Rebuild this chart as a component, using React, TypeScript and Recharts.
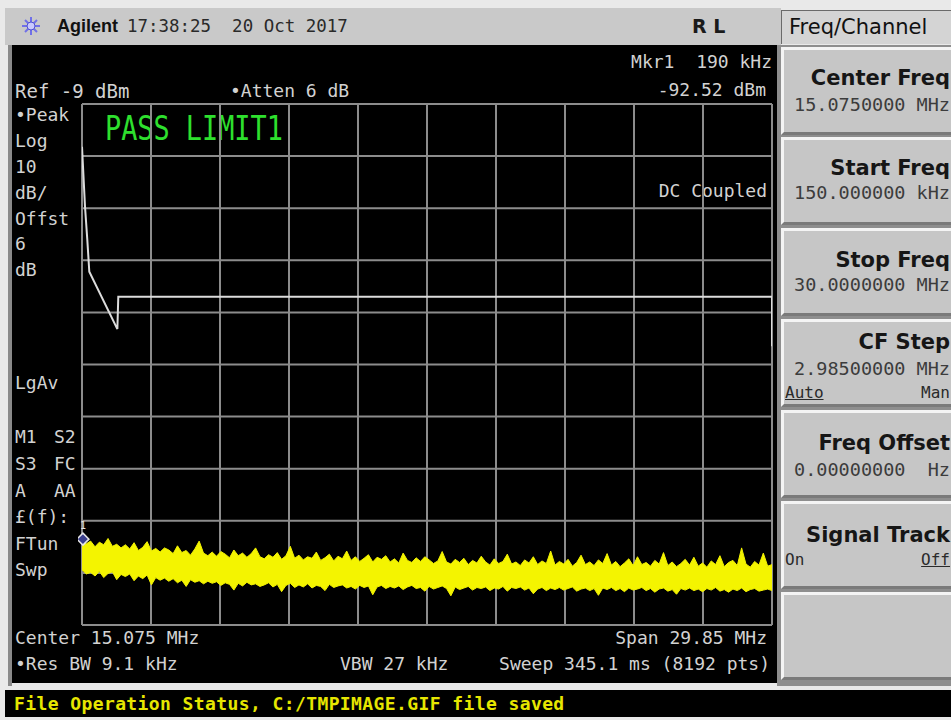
import React from "react";
import {
  ComposedChart,
  Area,
  Line,
  XAxis,
  YAxis,
  ReferenceLine,
  ReferenceDot,
} from "recharts";

// sweep settings (MHz / dBm)
const START_MHZ = 0.15;
const STOP_MHZ = 30;
const REF_DBM = -9;
const BOTTOM_DBM = -109;

// graticule divisions
const xTicks = [0.15, 3.135, 6.12, 9.105, 12.09, 15.075, 18.06, 21.045, 24.03, 27.015, 30];
const yTicks = [-109, -99, -89, -79, -69, -59, -49, -39, -29, -19, -9];

// limit line 1
const limitFreqs = [0.15, 0.28, 0.38, 0.466, 1.68, 1.72, 30, 30];
const limitLevels = [-17.2, -28.7, -35.1, -41.2, -52.2, -46.0, -46.0, -55.5];

// trace 1 envelope, upper and lower edge of the noise band (dBm), evenly across the span
const traceHi = [
  -92.6, -93.4, -92.9, -94.0, -93.1, -93.6, -92.4, -93.9, -93.5, -94.2,
  -93.6, -94.4, -93.2, -94.7, -94.1, -93.0, -94.8, -94.3, -95.0, -94.2,
  -94.6, -95.3, -93.8, -95.1, -94.7, -95.6, -94.4, -92.9, -95.2, -95.7,
  -95.0, -95.8, -94.9, -95.4, -96.1, -94.6, -95.7, -95.2, -96.0, -95.3,
  -94.2, -95.9, -96.3, -95.5, -96.0, -95.1, -96.4, -95.7, -93.9, -96.2,
  -95.6, -96.5, -95.9, -96.2, -95.0, -96.6, -96.1, -95.4, -96.7, -95.8,
  -96.3, -94.8, -96.6, -95.9, -96.8, -96.2, -95.5, -96.9, -96.0, -96.4,
  -95.7, -96.9, -96.3, -97.1, -95.2, -96.6, -97.0, -96.1, -96.8, -95.9,
  -96.5, -97.2, -96.7, -94.9, -96.9, -97.3, -96.4, -97.0, -96.2, -97.4,
  -96.6, -97.1, -95.8, -96.9, -97.5, -96.3, -97.2, -96.8, -95.4, -97.3,
  -96.9, -97.6, -96.5, -97.1, -95.9, -97.4, -96.7, -97.2, -94.8, -97.5,
  -96.8, -97.3, -96.4, -97.7, -97.0, -95.6, -97.4, -96.9, -97.6, -96.5,
  -97.2, -95.3, -97.5, -96.8, -97.8, -97.1, -96.3, -97.6, -95.9, -97.4,
  -97.0, -97.7, -96.6, -97.3, -95.1, -97.6, -96.9, -97.8, -97.2, -96.4,
  -97.5, -96.0, -97.7, -97.1, -97.9, -96.7, -97.4, -95.7, -97.8, -97.0,
  -96.6, -97.6, -94.2, -97.3, -97.9, -96.8, -97.5, -95.2, -97.7, -97.4,
];
const traceLo = [
  -98.4, -99.2, -98.9, -99.6, -98.7, -99.9, -99.1, -98.8, -100.3, -99.3,
  -99.7, -99.2, -100.5, -99.6, -100.1, -99.4, -101.3, -99.9, -100.4, -100.0,
  -100.6, -100.1, -100.9, -100.4, -101.6, -100.3, -100.8, -100.5, -101.1, -100.6,
  -101.0, -100.7, -101.4, -100.9, -101.2, -102.3, -101.0, -101.5, -100.8, -101.3,
  -101.1, -101.6, -101.3, -100.9, -101.7, -101.2, -102.6, -101.4, -101.0, -101.8,
  -101.3, -101.7, -101.1, -101.9, -101.4, -101.6, -102.4, -101.2, -101.8, -101.5,
  -101.3, -101.9, -101.6, -102.1, -101.4, -101.8, -101.5, -103.2, -101.7, -101.4,
  -102.0, -101.6, -101.9, -101.5, -102.2, -101.7, -101.4, -102.0, -101.8, -102.5,
  -101.6, -102.1, -101.8, -101.5, -102.0, -103.4, -101.7, -102.2, -101.9, -101.6,
  -102.3, -101.8, -102.0, -101.7, -102.4, -101.9, -102.1, -101.6, -102.5, -101.8,
  -102.0, -101.7, -102.3, -101.9, -103.0, -102.1, -101.8, -102.4, -101.9, -102.2,
  -101.8, -102.3, -102.0, -101.7, -102.5, -102.1, -101.9, -102.4, -102.0, -103.3,
  -101.9, -102.2, -101.8, -102.4, -102.0, -102.6, -101.9, -102.3, -102.1, -101.8,
  -102.4, -102.0, -102.7, -102.1, -101.9, -102.5, -102.2, -103.1, -102.0, -102.3,
  -101.9, -102.4, -102.1, -102.6, -102.0, -102.3, -101.8, -102.5, -102.2, -102.7,
  -102.1, -102.4, -101.9, -102.6, -102.2, -102.0, -102.5, -102.3, -102.1, -102.4,
];

const markerFreq = 0.19;
const markerLevel = -92.52;

const leftLabels = ["\u2022Peak", "Log", "10", "dB/", "Offst", "6", "dB"];
const statusLabels = [
  ["M1", "S2"],
  ["S3", "FC"],
  ["A", "AA"],
  ["\u00a3(f):", ""],
  ["FTun", ""],
  ["Swp", ""],
];

const softkeys = [
  { title: "Center Freq", value: "15.0750000 MHz", left: "", right: "" },
  { title: "Start Freq", value: "150.000000 kHz", left: "", right: "" },
  { title: "Stop Freq", value: "30.0000000 MHz", left: "", right: "" },
  { title: "CF Step", value: "2.98500000 MHz", left: "Auto", right: "Man" },
  { title: "Freq Offset", value: "0.00000000  Hz", left: "", right: "" },
  { title: "Signal Track", value: "", left: "On", right: "Off" },
  { title: "", value: "", left: "", right: "" },
];
// button top, title y, value y, option y
const keyLayout = [
  [47, 78, 105, 0],
  [137, 168, 193, 0],
  [228, 260, 285, 0],
  [319, 342, 369, 393],
  [410, 443, 470, 0],
  [501, 535, 0, 560],
  [592, 0, 0, 0],
];

const limitRows = limitFreqs.map((f, i) => ({ f, level: limitLevels[i] }));
const traceRows = traceHi.map((hi, i) => ({
  f: START_MHZ + (i * (STOP_MHZ - START_MHZ)) / (traceHi.length - 1),
  band: [traceLo[i], hi],
}));

const mono = '"DejaVu Sans Mono", monospace';
const sans = '"DejaVu Sans", sans-serif';
const LCD = "#d2d2d2";
const GRID = "#8c8c8c";

const CHART_W = 698;
const CHART_H = 529;
const CHART_MARGIN = { top: 4, right: 4, bottom: 4, left: 4 };

function T({
  x,
  y,
  right,
  size = 18,
  color = LCD,
  font = mono,
  weight = 400,
  sx = 1,
  spacing = 0,
  underline = false,
  children,
}: any) {
  const style: React.CSSProperties = {
    position: "absolute",
    top: y - size * 0.48,
    fontFamily: font,
    fontSize: size,
    lineHeight: `${size}px`,
    fontWeight: weight,
    color,
    letterSpacing: spacing,
    whiteSpace: "pre",
    textDecoration: underline ? "underline" : "none",
    transform: sx !== 1 ? `scaleX(${sx})` : undefined,
  };
  if (right !== undefined) {
    style.right = 951 - right;
    style.transformOrigin = "right center";
  } else {
    style.left = x;
    style.transformOrigin = "left center";
  }
  return <div style={style}>{children}</div>;
}

function Diamond(props: any) {
  const { cx, cy } = props;
  return (
    <g>
      <polygon
        points={`${cx},${cy - 6} ${cx + 6},${cy} ${cx},${cy + 6} ${cx - 6},${cy}`}
        fill="#3b3f8c"
        stroke="#e6e6e6"
        strokeWidth={1.5}
      />
      <text x={cx} y={cy - 10} fill="#e6e6e6" fontSize={10} fontFamily={mono} textAnchor="middle">
        1
      </text>
    </g>
  );
}

// shared hidden axes so the graticule and the traces use the same scales
function axes() {
  return [
    <XAxis
      key="x"
      dataKey="f"
      type="number"
      domain={[START_MHZ, STOP_MHZ]}
      ticks={xTicks}
      allowDataOverflow
      height={0}
      tick={false}
      tickLine={false}
      axisLine={false}
    />,
    <YAxis
      key="y"
      type="number"
      domain={[BOTTOM_DBM, REF_DBM]}
      ticks={yTicks}
      allowDataOverflow
      width={0}
      tick={false}
      tickLine={false}
      axisLine={false}
    />,
  ];
}

export default function App() {
  return (
    <div
      style={{
        position: "absolute",
        left: 0,
        top: 0,
        width: 951,
        height: 720,
        overflow: "hidden",
        background: "#e9e9e9",
      }}
    >
      {/* title bar */}
      <div style={{ position: "absolute", left: 5, top: 8, width: 776, height: 37, background: "#c9c9c9" }} />
      <svg style={{ position: "absolute", left: 21, top: 16 }} width={20} height={20}>
        <g stroke="#7070e8" strokeWidth={2}>
          <line x1={10} y1={1} x2={10} y2={19} />
          <line x1={1} y1={10} x2={19} y2={10} />
          <line x1={4} y1={4} x2={16} y2={16} />
          <line x1={16} y1={4} x2={4} y2={16} />
        </g>
        <circle cx={10} cy={10} r={4} fill="#c9c9ff" stroke="#5050d0" />
      </svg>
      <T x={57} y={26} size={18} color="#111" font='"Liberation Sans", Arial, sans-serif' weight={700}>
        Agilent
      </T>
      <T x={127} y={26} size={18} color="#2a2a2a" sx={0.97}>
        17:38:25  20 Oct 2017
      </T>
      <T x={692} y={26} size={19} color="#1a1a1a" font={sans} weight={700}>
        R L
      </T>

      {/* right softkey panel */}
      <div style={{ position: "absolute", left: 777, top: 45, width: 174, height: 641, background: "#8e8e8e" }} />
      <div
        style={{
          position: "absolute",
          left: 781,
          top: 10,
          width: 175,
          height: 33,
          background: "#d4d4d4",
          borderTop: "1px solid #6a6a6a",
          borderLeft: "1px solid #6a6a6a",
        }}
      />
      <T x={789} y={27} size={21} color="#111" font={sans}>
        Freq/Channel
      </T>
      {softkeys.map((k, i) => {
        const [top, ty, vy, oy] = keyLayout[i];
        return (
          <React.Fragment key={i}>
            <div
              style={{
                position: "absolute",
                left: 781,
                top,
                width: 180,
                height: 82,
                background: "#c6c6c6",
                borderTop: "3px solid #f4f4f4",
                borderLeft: "3px solid #f4f4f4",
                borderBottom: "3px solid #7a7a7a",
              }}
            />
            {k.title && (
              <T right={950} y={ty} size={21} color="#161616" font={sans} weight={700}>
                {k.title}
              </T>
            )}
            {k.value && (
              <T right={950} y={vy} size={18.5} color="#3c3c3c">
                {k.value}
              </T>
            )}
            {k.left && (
              <T x={785} y={oy} size={16} color="#2a2a2a" underline={k.left === "Auto"}>
                {k.left}
              </T>
            )}
            {k.right && (
              <T right={950} y={oy} size={16} color="#2a2a2a" underline={k.right === "Off"}>
                {k.right}
              </T>
            )}
          </React.Fragment>
        );
      })}

      {/* display */}
      <div style={{ position: "absolute", left: 8, top: 45, width: 4, height: 641, background: "#8a8a8a" }} />
      <div style={{ position: "absolute", left: 12, top: 45, width: 765, height: 638, background: "#000" }} />

      <T right={772} y={62} size={18}>Mkr1  190 kHz</T>
      <T right={766} y={90} size={18}>-92.52 dBm</T>
      <T x={15} y={91} size={19}>Ref -9 dBm</T>
      <T x={230} y={91} size={18}>{"\u2022Atten 6 dB"}</T>
      {leftLabels.map((s, i) => (
        <T key={s} x={15} y={115 + i * 25.8} size={18}>
          {s}
        </T>
      ))}
      <T x={15} y={383} size={18}>LgAv</T>
      {statusLabels.map(([a, b], i) => (
        <React.Fragment key={a}>
          <T x={15} y={437 + i * 26.6} size={18}>{a}</T>
          {b && <T x={54} y={437 + i * 26.6} size={18}>{b}</T>}
        </React.Fragment>
      ))}
      <T right={767} y={191} size={18}>DC Coupled</T>
      <T x={105} y={127} size={34} color="#2ee02e" sx={0.79}>
        PASS LIMIT1
      </T>
      <T x={15} y={638} size={18}>Center 15.075 MHz</T>
      <T right={767} y={638} size={18}>Span 29.85 MHz</T>
      <T x={15} y={664} size={18}>{"\u2022Res BW 9.1 kHz"}</T>
      <T x={340} y={664} size={18}>VBW 27 kHz</T>
      <T right={770} y={664} size={18}>Sweep 345.1 ms (8192 pts)</T>

      {/* graticule, drawn underneath the traces */}
      <div style={{ position: "absolute", left: 78, top: 100 }}>
        <ComposedChart width={CHART_W} height={CHART_H} margin={CHART_MARGIN} data={limitRows}>
          {axes()}
          {xTicks.map((f) => (
            <ReferenceLine key={"x" + f} x={f} stroke={GRID} strokeWidth={2} ifOverflow="visible" />
          ))}
          {yTicks.map((v) => (
            <ReferenceLine key={"y" + v} y={v} stroke={GRID} strokeWidth={2} ifOverflow="visible" />
          ))}
        </ComposedChart>
      </div>

      {/* traces */}
      <div style={{ position: "absolute", left: 78, top: 100 }}>
        <ComposedChart width={CHART_W} height={CHART_H} margin={CHART_MARGIN}>
          {axes()}
          <Area
            data={traceRows}
            dataKey="band"
            type="linear"
            stroke="#f2f200"
            strokeWidth={1}
            fill="#f4f400"
            fillOpacity={1}
            isAnimationActive={false}
          />
          <Line
            data={limitRows}
            dataKey="level"
            type="linear"
            stroke="#dcdcdc"
            strokeWidth={2}
            dot={false}
            isAnimationActive={false}
          />
          <ReferenceDot x={markerFreq} y={markerLevel} shape={Diamond} />
        </ComposedChart>
      </div>

      {/* status line */}
      <div style={{ position: "absolute", left: 5, top: 690, width: 946, height: 27, background: "#000" }} />
      <T x={14} y={704} size={18} color="#e6e600" weight={700} spacing={0.4}>
        File Operation Status, C:/TMPIMAGE.GIF file saved
      </T>
    </div>
  );
}
